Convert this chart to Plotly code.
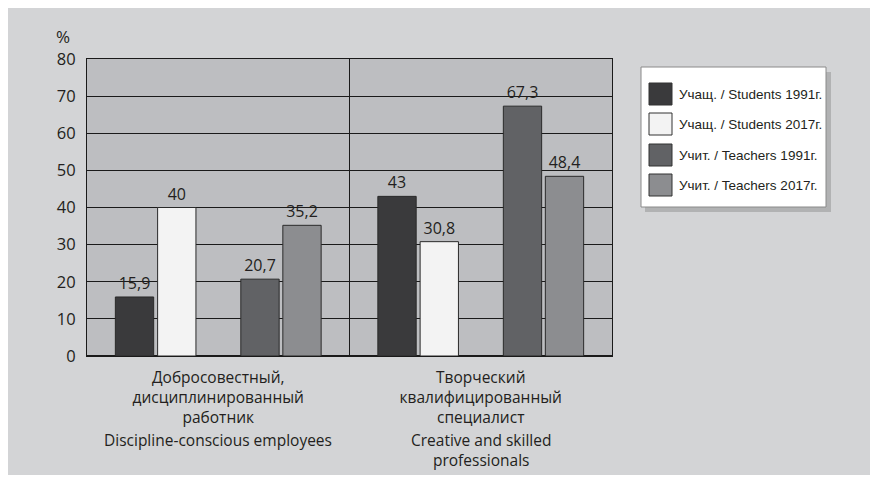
import plotly.graph_objects as go

# ── data ───────────────────────────────────────────────────────────────
categories = [
    "Добросовестный,<br>дисциплинированный<br>работник",
    "Творческий<br>квалифицированный<br>специалист",
]
english_labels = ["Discipline-conscious employees", "Creative and skilled<br>professionals"]

series_names = [
    "Учащ. / Students 1991г.",
    "Учащ. / Students 2017г.",
    "Учит. / Teachers 1991г.",
    "Учит. / Teachers 2017г.",
]
students_1991 = [15.9, 43]
students_2017 = [40, 30.8]
teachers_1991 = [20.7, 67.3]
teachers_2017 = [35.2, 48.4]

y_ticks = [0, 10, 20, 30, 40, 50, 60, 70, 80]

# ── style ──────────────────────────────────────────────────────────────
OUTER_BG = "#d3d4d6"
PLOT_BG = "#bdbec1"
TEXT = "#231f20"
LINE = "#1a1a1a"
BAR_COLORS = ["#3a3a3c", "#f3f3f3", "#616265", "#8c8d90"]
FONT = "Open Sans, Noto Sans, sans-serif"
NARROW = "Liberation Sans Narrow, Arial Narrow, sans-serif"

# page body has an 8px margin, so the figure starts at screen (8, 8)
OFF = 8
W, H = 862, 467
L, R, T, B = 79, 258, 51, 119
PW, PH = W - L - R, H - T - B


def px_x(p):  # screen px -> paper x
    return (p - OFF - L) / PW


def px_y(p):  # screen px -> paper y
    return (H - B - (p - OFF)) / PH


def fmt(v):
    return f"{v:g}".replace(".", ",")


series = [students_1991, students_2017, teachers_1991, teachers_2017]
offsets = [-0.392, -0.231, 0.086, 0.246]
bar_w = 0.146

fig = go.Figure()
for name, vals, color, off in zip(series_names, series, BAR_COLORS, offsets):
    fig.add_trace(go.Bar(
        name=name,
        x=[0, 1],
        y=vals,
        offset=off,
        width=bar_w,
        marker=dict(color=color, line=dict(color="#2a2a2a", width=1)),
        text=[fmt(v) for v in vals],
        textposition="outside",
        textfont=dict(family=FONT, size=16, color=TEXT),
        cliponaxis=False,
        showlegend=False,
    ))

shapes = [
    # legend shadow + box
    dict(type="rect", xref="paper", yref="paper",
         x0=px_x(645), x1=px_x(831), y0=px_y(212), y1=px_y(72),
         fillcolor="rgba(0,0,0,0.16)", line=dict(width=0)),
    dict(type="rect", xref="paper", yref="paper",
         x0=px_x(641), x1=px_x(826), y0=px_y(207), y1=px_y(67),
         fillcolor="white", line=dict(color="#8a8a8a", width=1)),
]
annotations = [
    dict(text="%", xref="paper", yref="paper", x=px_x(63), y=px_y(37),
         xanchor="center", yanchor="middle", showarrow=False,
         font=dict(family=FONT, size=17, color=TEXT)),
]
row_y = [94, 124, 155, 185]
for name, color, ry in zip(series_names, BAR_COLORS, row_y):
    shapes.append(dict(type="rect", xref="paper", yref="paper",
                       x0=px_x(649), x1=px_x(672), y0=px_y(ry + 11), y1=px_y(ry - 11),
                       fillcolor=color, line=dict(color="#333", width=1)))
    annotations.append(dict(text=name, xref="paper", yref="paper",
                            x=px_x(677), y=px_y(ry), xanchor="left", yanchor="middle",
                            showarrow=False,
                            font=dict(family=NARROW, size=13.5, color=TEXT)))

for i, lab in enumerate(english_labels):
    annotations.append(dict(text=lab, xref="x", yref="paper", x=i, y=px_y(427),
                            xanchor="center", yanchor="top", showarrow=False,
                            font=dict(family=FONT, size=15.5, color=TEXT)))

fig.update_layout(
    width=W, height=H,
    paper_bgcolor=OUTER_BG,
    plot_bgcolor=PLOT_BG,
    margin=dict(l=L, r=R, t=T, b=B),
    font=dict(family=FONT, color=TEXT),
    barmode="overlay",
    shapes=shapes,
    annotations=annotations,
    showlegend=False,
)
fig.update_xaxes(
    type="linear", range=[-0.5, 1.5],
    tickvals=[0, 1], ticktext=categories,
    tickfont=dict(family=FONT, size=15.5, color=TEXT),
    showgrid=False, zeroline=False,
    showline=True, linecolor=LINE, linewidth=1, mirror=True,
    ticks="", ticklabelstandoff=7,
)
fig.update_yaxes(
    range=[0, 80], tickvals=y_ticks,
    tickfont=dict(family=FONT, size=16.5, color=TEXT),
    showgrid=True, gridcolor=LINE, gridwidth=1,
    zeroline=True, zerolinecolor=LINE, zerolinewidth=1.5,
    showline=True, linecolor=LINE, linewidth=1, mirror=True,
    ticks="", ticklabelstandoff=7,
)
fig.add_vline(x=0.5, line_color=LINE, line_width=1)

fig.write_html("out.html")
